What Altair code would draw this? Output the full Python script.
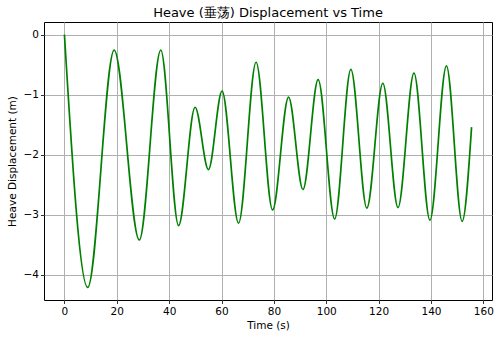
import altair as alt
import pandas as pd

# Extrema (time in s, heave in m)
times = [0.0, 8.9, 19.0, 28.6, 36.8, 43.6, 49.9, 55.0, 60.2, 66.5, 73.2,
         79.5, 85.6, 91.1, 96.9, 103.2, 109.4, 115.5, 121.6, 127.4, 133.5,
         139.6, 145.9, 151.9, 155.5]
heave = [0.0, -4.21, -0.26, -3.42, -0.26, -3.18, -1.21, -2.25, -0.94, -3.14, -0.46,
         -2.92, -1.04, -2.58, -0.75, -3.07, -0.58, -2.89, -0.81, -2.88, -0.64,
         -3.09, -0.52, -3.11, -1.54]
x_ticks = [0, 20, 40, 60, 80, 100, 120, 140, 160]
y_ticks = [-4, -3, -2, -1, 0]

df = pd.DataFrame({"t": times, "h": heave})

FONT = "DejaVu Sans"

chart = alt.Chart(df).mark_line(
    color="#008000", strokeWidth=1.7, interpolate="monotone"
).encode(
    x=alt.X("t:Q", title="Time (s)",
            scale=alt.Scale(domain=[-7.8, 163.3], nice=False, zero=False),
            axis=alt.Axis(values=x_ticks, format="d", labelPadding=3)),
    y=alt.Y("h:Q", title="Heave Displacement (m)",
            scale=alt.Scale(domain=[-4.42, 0.21], nice=False, zero=False),
            axis=alt.Axis(values=y_ticks, format="d")),
).properties(
    width=448, height=278,
    background="white",
    title=alt.TitleParams("Heave (垂荡) Displacement vs Time", font=FONT,
                          fontSize=13, fontWeight="normal", color="black",
                          offset=2),
    autosize=alt.AutoSizeParams(type="none"),
    padding={"left": 44, "top": 22, "right": 8, "bottom": 41},
).configure_axis(
    labelFont=FONT, titleFont=FONT, labelFontSize=10.5, titleFontSize=10.5,
    labelColor="black", titleColor="black", titleFontWeight="normal",
    grid=True, gridColor="#b0b0b0", gridWidth=1,
    domain=False, tickColor="black", tickSize=3.5, tickWidth=0.8,
    labelPadding=2,
).configure_axisX(titlePadding=3).configure_axisY(titlePadding=6).configure_view(
    stroke="black", strokeWidth=1
)

chart.save("out.html", embed_options={"renderer": "svg", "actions": False})
